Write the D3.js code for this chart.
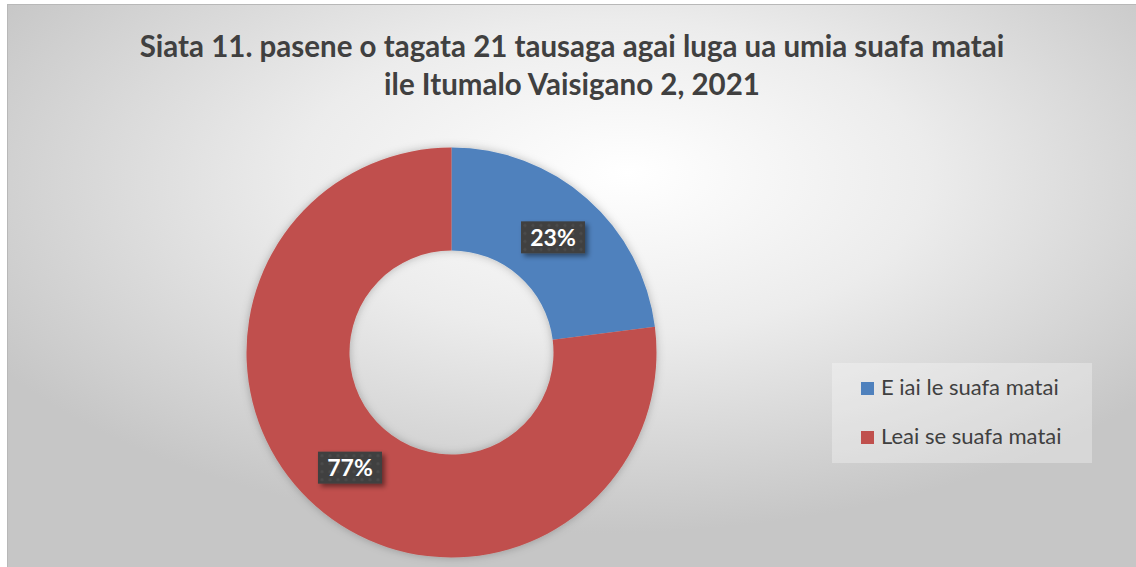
<!DOCTYPE html>
<html>
<head>
<meta charset="utf-8">
<title>Siata 11</title>
<script src="https://d3js.org/d3.v7.min.js"></script>
<style>
html, body { margin: 0; padding: 0; background: #fff; }
svg { display: block; }
</style>
</head>
<body>
<svg width="1136" height="567"></svg>
<script>
// data
var categories = ["E iai le suafa matai", "Leai se suafa matai"];
var values = [23, 77];
var colors = ["#4f81bd", "#c0504d"];
var titleLines = ["Siata 11. pasene o tagata 21 tausaga agai luga ua umia suafa matai",
                  "ile Itumalo Vaisigano 2, 2021"];

var svg = d3.select("svg"),
    W = +svg.attr("width"), H = +svg.attr("height");

var defs = svg.append("defs");

var bg = defs.append("radialGradient").attr("id", "bg")
    .attr("cx", "52%").attr("cy", "32%").attr("r", "62%")
    .attr("fx", "55%").attr("fy", "30%");
bg.append("stop").attr("offset", "0%").attr("stop-color", "#ffffff");
bg.append("stop").attr("offset", "45%").attr("stop-color", "#ececec");
bg.append("stop").attr("offset", "100%").attr("stop-color", "#c6c6c6");

var shadow = defs.append("filter").attr("id", "shadow")
    .attr("x", "-20%").attr("y", "-20%").attr("width", "140%").attr("height", "140%");
shadow.append("feDropShadow").attr("dx", 0).attr("dy", 0).attr("stdDeviation", 4)
    .attr("flood-color", "#000").attr("flood-opacity", 0.25);

var boxShadow = defs.append("filter").attr("id", "boxShadow")
    .attr("x", "-30%").attr("y", "-30%").attr("width", "170%").attr("height", "170%");
boxShadow.append("feDropShadow").attr("dx", 3).attr("dy", 3).attr("stdDeviation", 2.5)
    .attr("flood-color", "#000").attr("flood-opacity", 0.45);

var dots = defs.append("pattern").attr("id", "dots")
    .attr("patternUnits", "userSpaceOnUse").attr("width", 8).attr("height", 8);
dots.append("rect").attr("width", 8).attr("height", 8).attr("fill", "#404040");
dots.append("circle").attr("cx", 4).attr("cy", 4).attr("r", 1.6).attr("fill", "#4c4c4c");

// background
svg.append("rect").attr("x", 7).attr("y", 4).attr("width", W - 7).attr("height", H - 4)
    .attr("fill", "url(#bg)");
svg.append("line").attr("x1", 7).attr("x2", W).attr("y1", 4.5).attr("y2", 4.5)
    .attr("stroke", "#b8b8b8").attr("stroke-width", 1);
svg.append("line").attr("x1", 7.5).attr("x2", 7.5).attr("y1", 4).attr("y2", H)
    .attr("stroke", "#b8b8b8").attr("stroke-width", 1);

// title
svg.append("g").selectAll("text")
  .data(titleLines)
  .enter().append("text")
    .attr("x", 572)
    .attr("y", function(d, i) { return 57 + i * 38; })
    .attr("text-anchor", "middle")
    .attr("font-family", "Lato, 'Open Sans', sans-serif")
    .attr("font-weight", "bold")
    .attr("font-size", 29.5)
    .attr("fill", "#404040")
    .text(function(d) { return d; });

// donut
var cx = 451.5, cy = 352.5, rOuter = 205, rInner = 102;
var pie = d3.pie().sort(null).value(function(d) { return d; });
var arc = d3.arc().innerRadius(rInner).outerRadius(rOuter);
var labelArc = d3.arc().innerRadius((rInner + rOuter) / 2).outerRadius((rInner + rOuter) / 2);

var g = svg.append("g").attr("transform", "translate(" + cx + "," + cy + ")");
var arcs = pie(values);

g.append("g").attr("filter", "url(#shadow)")
  .selectAll("path")
  .data(arcs)
  .enter().append("path")
    .attr("d", arc)
    .attr("fill", function(d, i) { return colors[i]; });

// data labels
var lab = g.selectAll(".lab")
  .data(arcs)
  .enter().append("g")
    .attr("class", "lab")
    .attr("transform", function(d) { return "translate(" + labelArc.centroid(d) + ")"; });

lab.append("rect")
    .attr("x", -32).attr("y", -16).attr("width", 64).attr("height", 32)
    .attr("fill", "url(#dots)")
    .attr("filter", "url(#boxShadow)");

lab.append("text")
    .attr("text-anchor", "middle")
    .attr("dy", "0.36em")
    .attr("font-family", "Lato, 'Open Sans', sans-serif")
    .attr("font-weight", "bold")
    .attr("font-size", 23)
    .attr("fill", "#ffffff")
    .text(function(d) { return d.data + "%"; });

// legend
var legend = svg.append("g").attr("transform", "translate(832,363)");
legend.append("rect").attr("width", 260).attr("height", 100)
    .attr("fill", "#ffffff").attr("fill-opacity", 0.3);

var item = legend.selectAll(".item")
  .data(categories)
  .enter().append("g")
    .attr("class", "item")
    .attr("transform", function(d, i) { return "translate(29," + (19 + i * 49) + ")"; });

item.append("rect")
    .attr("width", 13).attr("height", 13)
    .attr("fill", function(d, i) { return colors[i]; });

item.append("text")
    .attr("x", 20).attr("y", 13)
    .attr("font-family", "Lato, 'Open Sans', sans-serif")
    .attr("font-size", 22)
    .attr("fill", "#404040")
    .text(function(d) { return d; });
</script>
</body>
</html>
